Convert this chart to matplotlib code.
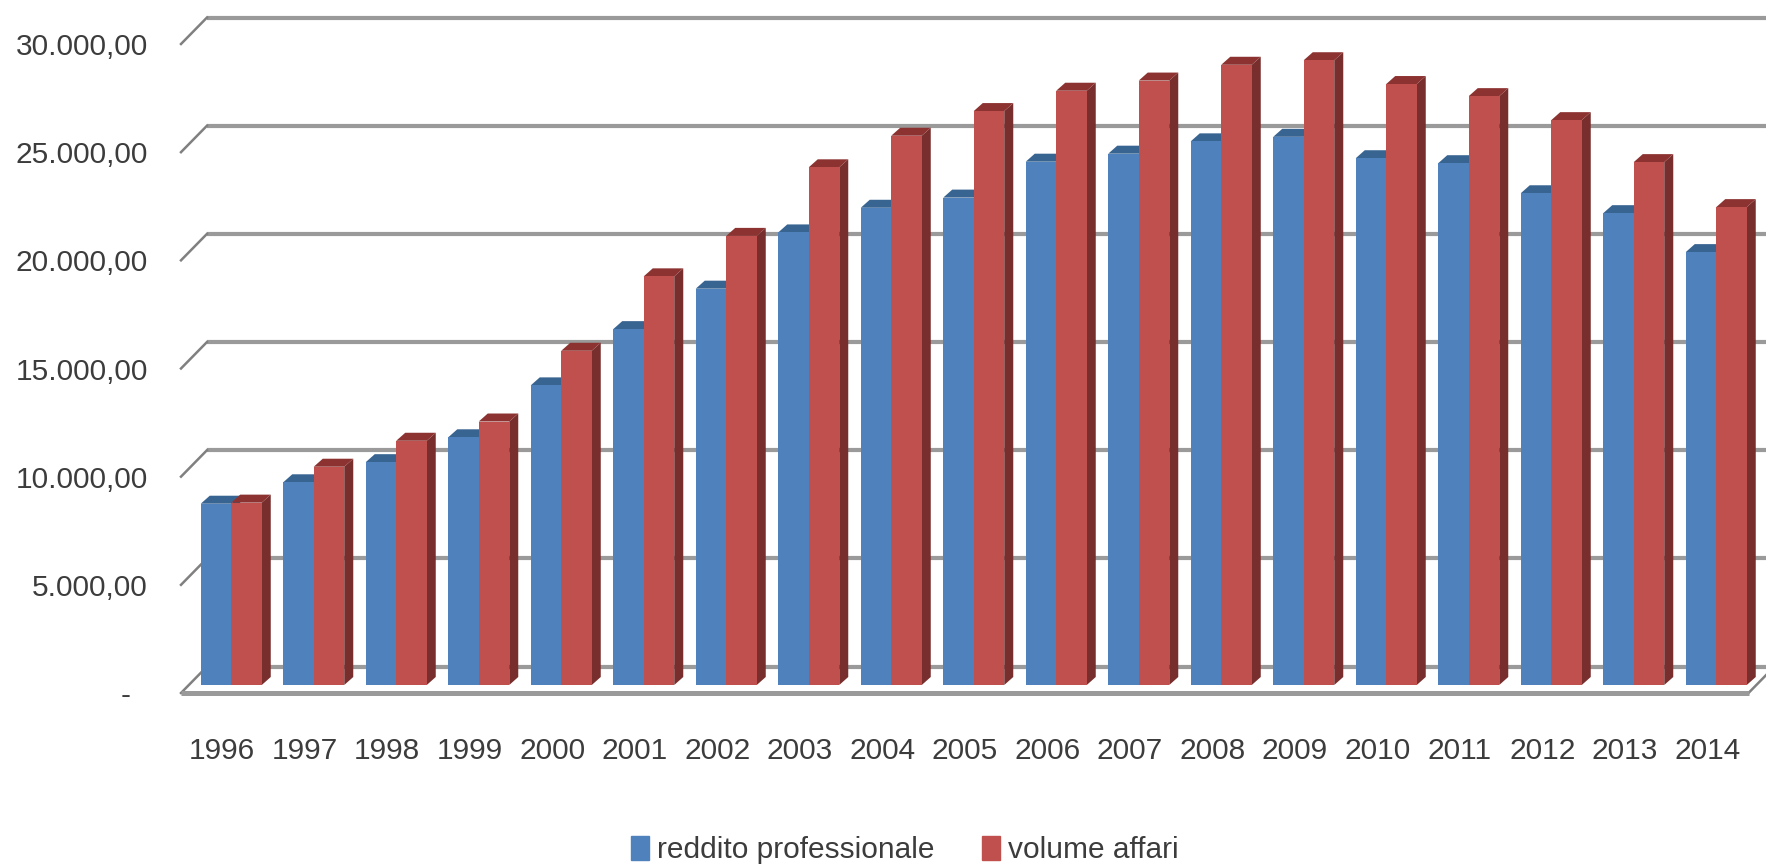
import matplotlib
matplotlib.use("Agg")
import matplotlib.pyplot as plt
from matplotlib.patches import Patch

years = [str(y) for y in range(1996, 2015)]
reddito = [8380, 9370, 10300, 11450, 13850, 16450, 18320, 20920, 22060, 22530,
           24190, 24560, 25130, 25340, 24350, 24120, 22730, 21810, 20010]
volume = [8430, 10090, 11290, 12180, 15450, 18890, 20760, 23930, 25390, 26530,
          27470, 27940, 28670, 28880, 27780, 27220, 26110, 24170, 22090]
tick_values = [0, 5000, 10000, 15000, 20000, 25000, 30000]
tick_labels = ["-  ", "5.000,00", "10.000,00", "15.000,00", "20.000,00", "25.000,00", "30.000,00"]
series_names = ["reddito professionale", "volume affari"]

plt.rcParams["font.family"] = ["Liberation Sans", "DejaVu Sans"]
W, H = 1766, 868
fig = plt.figure(figsize=(W / 100, H / 100), dpi=100)

# front plane of the 3D box, in pixels
left, right, base, top = 181, 1748.5, 693, 44
ax = fig.add_axes([left / W, 1 - base / H, (right - left) / W, (base - top) / H])
ax.set_xlim(-0.5, 18.5)
ax.set_ylim(0, 30000)
px_x = 19 / (right - left)
px_y = 30000 / (base - top)

for s in ax.spines.values():
    s.set_visible(False)

GRID = "#9a9a9a"
TEXT = "#3c3c3c"
wx, wy = 26 * px_x, 26.5 * px_y
for v in tick_values:
    ax.plot([-0.5 + wx, 18.5 + wx], [v + wy, v + wy], color=GRID, lw=3, clip_on=False, zorder=1, solid_capstyle="butt")
    ax.plot([-0.5, -0.5 + wx], [v, v + wy], color="#808080", lw=1.8, clip_on=False, zorder=1)
ax.plot([-0.5, 18.5], [0, 0], color=GRID, lw=3.6, clip_on=False, zorder=2, solid_capstyle="butt")
ax.plot([18.5, 18.5 + wx], [0, wy], color="#808080", lw=1.8, clip_on=False, zorder=1)

bw = 30.5 * px_x
fx, fy = 9 * px_x, 8 * px_y      # offset of bar front from box front
dx, dy = 9 * px_x, 8 * px_y      # bar depth


def draw_bars(values, offset, face, top_c, side_c, z):
    for i, v in enumerate(values):
        l = i + fx + offset
        r = l + bw
        t = v + fy
        ax.fill([r, r + dx, r + dx, r], [fy, fy + dy, t + dy, t], color=side_c, lw=0, clip_on=False, zorder=z)
        ax.fill([l, l + dx, r + dx, r], [t, t + dy, t + dy, t], color=top_c, lw=0, clip_on=False, zorder=z)
    ax.bar([i + fx + offset for i in range(len(values))], values, width=bw, bottom=fy, align="edge",
           color=face, lw=0, clip_on=False, zorder=z + 0.5)


draw_bars(reddito, -bw, "#4f81bd", "#386492", "#2f5580", 3)
draw_bars(volume, 0, "#c0504d", "#8c3331", "#772e2c", 4)

ax.set_xticks(range(len(years)), years)
ax.set_yticks(tick_values, tick_labels)
ax.tick_params(axis="x", length=0, pad=32, labelsize=21.5, labelcolor=TEXT)
ax.tick_params(axis="y", length=0, pad=24, labelsize=21.5, labelcolor=TEXT)

handles = [Patch(color="#4f81bd"), Patch(color="#c0504d")]
fig.legend(handles, series_names, ncol=2, loc="center", bbox_to_anchor=(905 / W, 1 - 850 / H),
           frameon=False, fontsize=21.5, labelcolor=TEXT, handlelength=0.6, handleheight=0.85,
           handletextpad=0.27, columnspacing=1.6, borderpad=0, borderaxespad=0)

fig.savefig("out.png", dpi=100, facecolor="white")
